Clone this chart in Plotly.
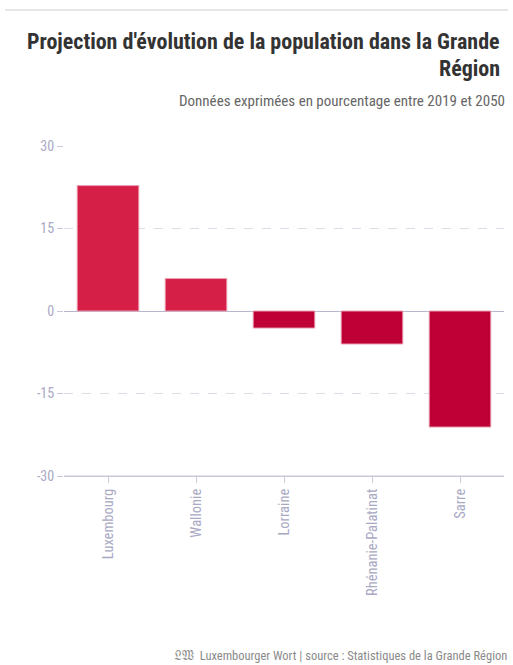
import plotly.graph_objects as go

regions = ["Luxembourg", "Wallonie", "Lorraine", "Rhénanie-Palatinat", "Sarre"]
values = [22.8, 5.9, -3.1, -6.0, -21.1]
y_ticks = [-30, -15, 0, 15, 30]

colors = ["#d61f47" if v >= 0 else "#be0037" for v in values]

W, H = 513, 665
L, R, T, B = 64, 9, 146, 189

fig = go.Figure(go.Bar(
    x=regions, y=values,
    marker=dict(color=colors, line=dict(color="#e8a0b4", width=1)),
    width=0.7,
))

font_family = "Roboto Condensed, Liberation Sans Narrow, Roboto, sans-serif"
tick_color = "#a9a9c4"

fig.update_layout(
    width=W, height=H,
    margin=dict(l=L, r=R, t=T, b=B),
    paper_bgcolor="white", plot_bgcolor="white",
    showlegend=False,
    bargap=0.3,
    font=dict(family=font_family, color=tick_color),
    xaxis=dict(
        tickangle=-90, ticks="outside", ticklen=6, tickcolor="#c8c8da",
        tickfont=dict(size=14.5, color=tick_color, family=font_family),
        showline=True, linecolor="#c8c8da", linewidth=1,
        showgrid=False,
    ),
    yaxis=dict(
        range=[-30, 30], tickvals=y_ticks, ticktext=[str(v) for v in y_ticks],
        ticks="outside", ticklen=6, tickcolor="#c8c8da",
        tickfont=dict(size=14, color=tick_color, family=font_family),
        showgrid=True, gridcolor="#dcdce6", griddash="dash", gridwidth=1,
        zeroline=True, zerolinecolor="#b8b8cc", zerolinewidth=1,
        showline=False,
    ),
    shapes=[
        dict(type="line", xref="paper", yref="paper",
             x0=-L / (W - L - R) + 5 / (W - L - R), x1=1 + 4 / (W - L - R),
             y0=1 + (T - 10) / (H - T - B), y1=1 + (T - 10) / (H - T - B),
             line=dict(color="#e6e6e6", width=2)),
        dict(type="line", xref="paper", yref="y", x0=0, x1=1, y0=-30, y1=-30,
             line=dict(color="#c8c8da", width=1)),
    ],
)

def add_text(txt, y_px, size, color, bold=False, right=5):
    fig.add_annotation(
        text=f"<b>{txt}</b>" if bold else txt,
        xref="paper", yref="paper",
        x=(W - right - L) / (W - L - R), xanchor="right",
        y=1 + (T - y_px) / (H - T - B), yanchor="middle",
        showarrow=False, align="right",
        font=dict(size=size, color=color, family=font_family),
    )

add_text("Projection d'évolution de la population dans la Grande", 42, 22, "#333333", bold=True, right=11)
add_text("Région", 69, 22, "#333333", bold=True, right=11)
add_text("Données exprimées en pourcentage entre 2019 et 2050", 101, 15, "#666666", right=6)
add_text("𝔏𝔚  Luxembourger Wort | source : Statistiques de la Grande Région", 655, 12.5, "#8a8a8a", right=4)

fig.write_html("out.html")
